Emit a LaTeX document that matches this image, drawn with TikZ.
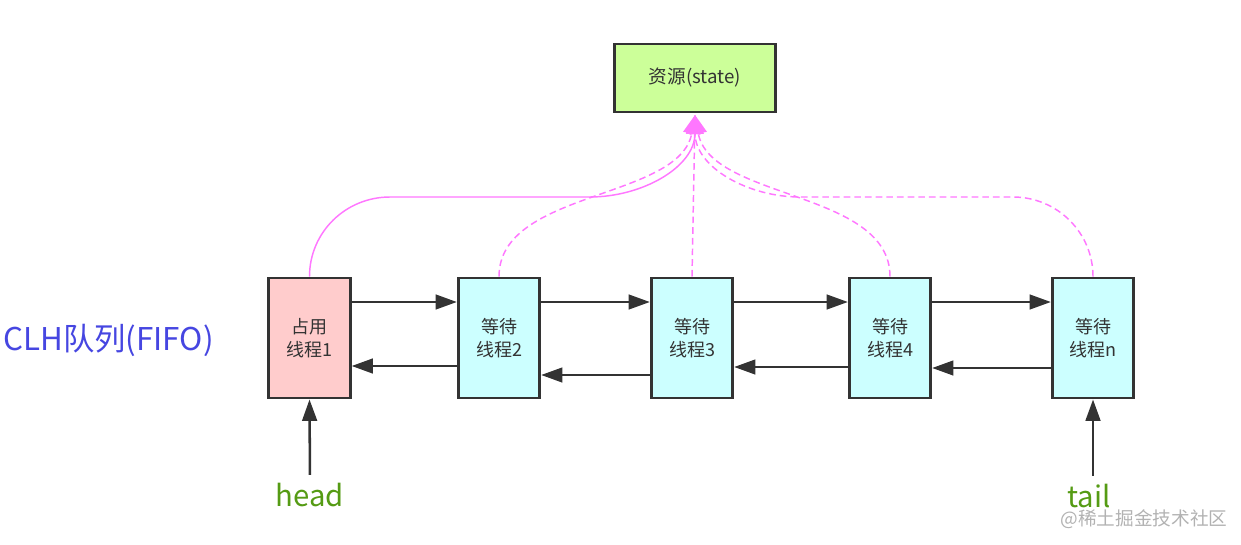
\documentclass[tikz,border=0pt]{standalone}
\usepackage{fontspec}
\setmainfont{Noto Sans CJK SC}
\usetikzlibrary{arrows.meta}

\definecolor{boxline}{HTML}{333333}
\definecolor{busy}{HTML}{FFCCCC}
\definecolor{wait}{HTML}{CCFFFF}
\definecolor{res}{HTML}{CCFF99}
\definecolor{link}{HTML}{FF77FF}
\definecolor{clh}{RGB}{70,70,225}
\definecolor{ptr}{RGB}{85,155,20}

\begin{document}
\begin{tikzpicture}[x=0.75pt, y=-0.75pt,
    thread/.style={draw=boxline, line width=2.2pt, minimum width=61pt, minimum height=90pt,
        inner sep=0pt, align=center, text=boxline, font=\fontsize{13.5}{17}\selectfont},
    arr/.style={draw=boxline, line width=1.9pt, -{Triangle[length=16pt, width=11pt]}},
    lnk/.style={draw=link, line width=1.1pt, -{Triangle[length=14pt, width=13pt]}},
    wt/.style={dash pattern=on 5pt off 3pt}]
        \useasboundingbox (0,0) rectangle (1241,545);

        \node[thread, fill=res, minimum width=121pt, minimum height=51pt, font=\fontsize{14}{16}\selectfont] (R) at (695,78) {资源(state)};
        \coordinate (S) at (695,115);

        \node[thread, fill=busy] (T1) at (309.5,338) {占用\\线程1};
        \node[thread, fill=wait] (T2) at (499,338) {等待\\线程2};
        \node[thread, fill=wait] (T3) at (692,338) {等待\\线程3};
        \node[thread, fill=wait] (T4) at (890,338) {等待\\线程4};
        \node[thread, fill=wait] (T5) at (1093,338) {等待\\线程n};

        \node[text=clh, font=\fontsize{23.5}{25}\selectfont, anchor=west, inner sep=0pt] (Q) at (3,340) {CLH队列(FIFO)};
        \node[text=ptr, font=\fontsize{22}{24}\selectfont, inner sep=0pt] (head) at (310,495) {head};
        \node[text=ptr, font=\fontsize{22}{24}\selectfont, inner sep=0pt] (tail) at (1089,496) {tail};
        \node[text=black!30, font=\fontsize{14}{16}\selectfont, inner sep=0pt] (wm) at (1144,519) {@稀土掘金技术社区};

        % next links
        \draw[arr] (T1.east |- 0,302) -- (T2.west |- 0,302);
        \draw[arr] (T2.east |- 0,302) -- (T3.west |- 0,302);
        \draw[arr] (T3.east |- 0,302) -- (T4.west |- 0,302);
        \draw[arr] (T4.east |- 0,302) -- (T5.west |- 0,302);
        % prev links
        \draw[arr] (T2.west |- 0,366) -- (T1.east |- 0,366);
        \draw[arr] (T3.west |- 0,375) -- (T2.east |- 0,375);
        \draw[arr] (T4.west |- 0,367) -- (T3.east |- 0,367);
        \draw[arr] (T5.west |- 0,368) -- (T4.east |- 0,368);

        % head and tail
        \draw[arr, shorten <=6pt] (head.north) -- (T1.south);
        \draw[arr, shorten <=6pt] (tail.north -| T5.south) -- (T5.south);

        % state
        \draw[lnk, wt] (T2.north) .. controls (499,190) and (680,200) .. (S);
        \draw[lnk, wt] (T3.north) -- (S);
        \draw[lnk, wt] (T4.north) .. controls (890,190) and (710,200) .. (S);
        \draw[lnk, wt] (T5.north) to[out=90, in=0] (1013,197) -- (800,197) to[out=180, in=-90] (S);
        \draw[lnk] (T1.north) to[out=90, in=180] (390,197) -- (590,197) to[out=0, in=-90] (S);
    \end{tikzpicture}
\end{document}
